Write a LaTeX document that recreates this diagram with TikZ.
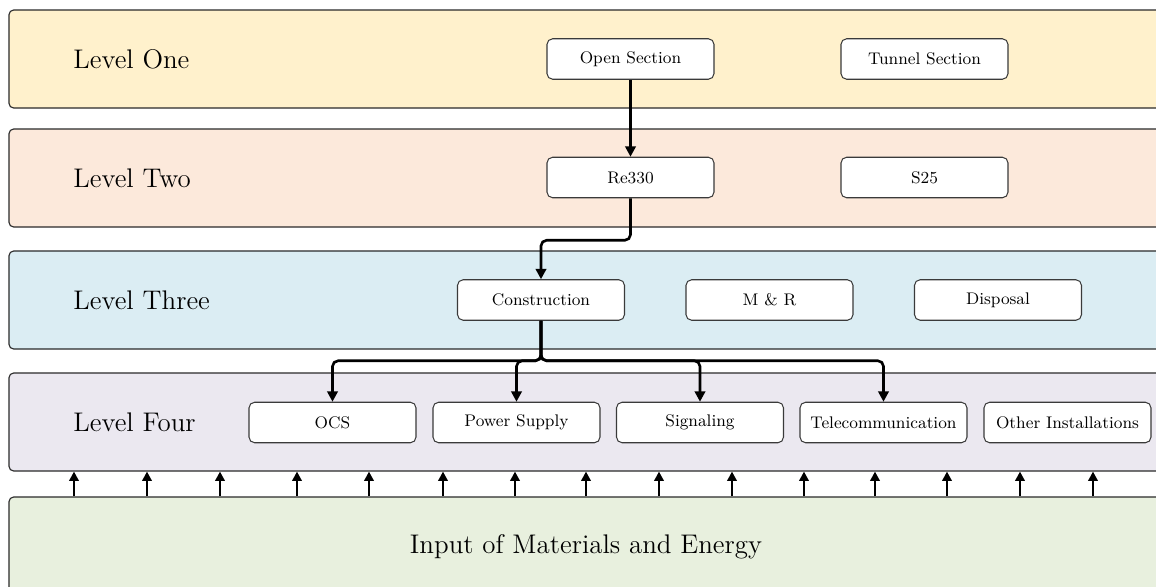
\documentclass[tikz,border=0pt]{standalone}
\usetikzlibrary{arrows.meta}
\definecolor{lvlone}{HTML}{FFF1CC}
\definecolor{lvltwo}{HTML}{FCE9DB}
\definecolor{lvlthree}{HTML}{DBEDF3}
\definecolor{lvlfour}{HTML}{EBE8F0}
\definecolor{lvlinput}{HTML}{E8F0DE}
\definecolor{edge}{HTML}{2A2A2A}
\definecolor{boxedge}{HTML}{3A3A3A}
\def\px{0.5348pt}
\tikzset{
  band/.style={draw=edge, line width=0.6pt, rounded corners=2.5pt,
    minimum width=1161*\px, minimum height=98*\px, inner sep=0pt},
  lvl/.style={anchor=west, font=\Large, inner sep=0pt},
  box/.style={draw=boxedge, fill=white, line width=0.55pt, rounded corners=3pt,
    minimum width=167*\px, minimum height=40.5*\px, inner sep=0pt, font=\small},
  flow/.style={line width=1.4pt, rounded corners=3pt,
    -{Triangle[length=5.5pt,width=5.5pt]}},
  feed/.style={line width=1.5pt, -{Triangle[length=5pt,width=5pt]}}
}
\begin{document}
\begin{tikzpicture}[x=0.5348pt,y=-0.5348pt]
\useasboundingbox (0,0) rectangle (1156,587);
\clip (0,0) rectangle (1156,587);

% horizontal level bands
\node[band, fill=lvlone]   (b1) at (589.5,59)  {};
\node[band, fill=lvltwo]   (b2) at (589.5,178) {};
\node[band, fill=lvlthree] (b3) at (589.5,300) {};
\node[band, fill=lvlfour]  (b4) at (589.5,422) {};
\node[band, fill=lvlinput] (b5) at (589.5,546) {};

% band titles
\node[lvl] (l1) at (73,59)  {Level One};
\node[lvl] (l2) at (73,178) {Level Two};
\node[lvl] (l3) at (73,300) {Level Three};
\node[lvl] (l4) at (73,422) {Level Four};
\node[font=\Large, inner sep=0pt] (inp) at (586,547) {Input of Materials and Energy};

% level one
\node[box] (open)   at (630.5,59) {Open Section};
\node[box] (tunnel) at (924.5,59) {Tunnel Section};
% level two
\node[box] (re)  at (630.5,177.5) {Re330};
\node[box] (s25) at (924.5,177.5) {S25};
% level three
\node[box] (con)  at (541,300)   {Construction};
\node[box] (mr)   at (769.5,300) {M \& R};
\node[box] (disp) at (998,300)   {Disposal};
% level four
\node[box] (ocs)   at (332.5,422.5)  {OCS};
\node[box] (power) at (516.5,422.5)  {Power Supply};
\node[box] (sig)   at (700,422.5)    {Signaling};
\node[box] (tel)   at (883.5,422.5)  {Telecommunication};
\node[box] (other) at (1067.5,422.5) {Other Installations};

% selection path
\draw[flow] (open.south) -- (re.north);
\draw[flow] (re.south) -- ++(0,42) -| (con.north);
\foreach \t in {ocs,power,sig,tel}
  \draw[flow] (con.south) -- ++(0,40) -| (\t.north);

% material and energy input
\foreach \x [count=\i] in {74,147,220,297,369,443,515,586,659,732,804,875,947,1020,1093}{
  \coordinate (f\i) at (\x,0);
  \draw[feed] (b5.north -| f\i) -- (b4.south -| f\i);
}
\end{tikzpicture}
\end{document}
